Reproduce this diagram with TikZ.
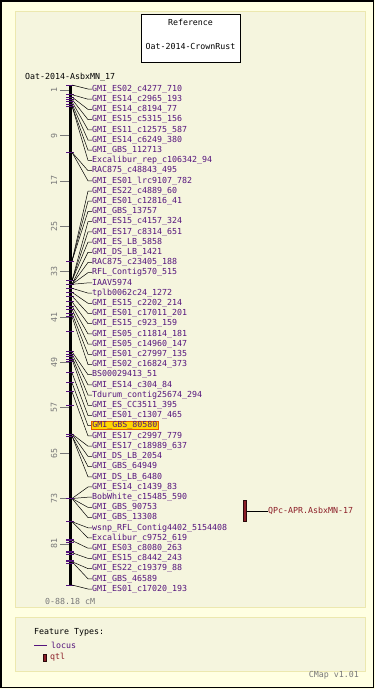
\documentclass[tikz,border=0pt]{standalone}
\usepackage{fontspec}
\setmonofont{DejaVu Sans Mono}
\definecolor{outerbg}{RGB}{255,255,226}
\definecolor{innerbg}{RGB}{245,245,222}
\definecolor{panelln}{RGB}{236,232,175}
\definecolor{mkcol}{RGB}{85,20,125}
\definecolor{qtlcol}{RGB}{140,30,40}
\definecolor{scalecol}{RGB}{120,120,120}
\definecolor{hlfill}{RGB}{255,215,0}
\definecolor{hlline}{RGB}{225,90,0}
\tikzset{
  pxfont/.style={font=\ttfamily\fontsize{8.3}{10}\selectfont},
  mlabel/.style={pxfont, text=mkcol, anchor=west, inner sep=0pt, text height=6pt, text depth=1.5pt},
  mtick/.style={draw=mkcol, line width=0.8pt},
  conn/.style={draw=black, line width=0.5pt},
  sctick/.style={draw=scalecol, line width=0.6pt},
  sclabel/.style={pxfont, text=scalecol, rotate=90, inner sep=0pt},
  panel/.style={fill=innerbg, draw=panelln, line width=1pt}
}
\begin{document}
\begin{tikzpicture}[x=1pt,y=-1pt]
\useasboundingbox (0,0) rectangle (375,689);
\fill[outerbg] (0,0) rectangle (375,689);
\draw[black, line width=1.5pt] (1,1) rectangle (373.5,687.5);
% panels
\path[panel] (15,11) rectangle (365,607);
\path[panel] (15,617) rectangle (365,671);
% reference box
\node[draw=black, fill=white, line width=0.8pt, minimum width=99pt, minimum height=48pt, anchor=north west, inner sep=0pt] (refbox) at (141,14) {};
\node[pxfont, inner sep=0pt] (reftitle) at (190.5,22) {Reference};
\node[pxfont, inner sep=0pt] (refname) at (190.5,46) {Oat-2014-CrownRust};
% map title
\node[pxfont, anchor=west, inner sep=0pt] (maptitle) at (25,77) {Oat-2014-AsbxMN\_17};
% scale ticks
\foreach \c in {1,9,17,25,33,41,49,57,65,73,81}{
  \pgfmathsetmacro{\yy}{84.6+5.67*\c}
  \draw[sctick] (60,\yy) -- (69,\yy);
  \node[sclabel] (sc\c) at (54,\yy) {\c};
}
% chromosome
\coordinate (ctop) at (70,85);
\coordinate (cbot) at (70,585);
\draw[black, line width=3pt] (ctop) -- (cbot);
\draw[black, line width=0.9pt] (66,85) -- (74,85);
\draw[black, line width=0.9pt] (66,585) -- (74,585);
% extra ticks
\foreach \ym in {331.7,361.7,405,539,542,551.5,554,560.5,563}{
  \draw[mtick] (66,\ym) -- (74,\ym);
}
% markers
\foreach \ym/\txt [count=\i] in {
85/GMI\_ES02\_c4277\_710,
94.7/GMI\_ES14\_c2965\_193,
97/GMI\_ES14\_c8194\_77,
99.3/GMI\_ES15\_c5315\_156,
101.7/GMI\_ES11\_c12575\_587,
104/GMI\_ES14\_c6249\_380,
106/GMI\_GBS\_112713,
106/Excalibur\_rep\_c106342\_94,
152.3/RAC875\_c48843\_495,
152.3/GMI\_ES01\_lrc9107\_782,
261/GMI\_ES22\_c4889\_60,
261/GMI\_ES01\_c12816\_41,
261/GMI\_GBS\_13757,
280.7/GMI\_ES15\_c4157\_324,
280.7/GMI\_ES17\_c8314\_651,
280.7/GMI\_ES\_LB\_5858,
284.3/GMI\_DS\_LB\_1421,
284.3/RAC875\_c23405\_188,
284.3/RFL\_Contig570\_515,
284.3/IAAV5974,
288.3/tplb0062c24\_1272,
292.3/GMI\_ES15\_c2202\_214,
296/GMI\_ES01\_c17011\_201,
301.7/GMI\_ES15\_c923\_159,
306/GMI\_ES05\_c11814\_181,
309.3/GMI\_ES05\_c14960\_147,
313.3/GMI\_ES01\_c27997\_135,
316.7/GMI\_ES02\_c16824\_373,
351.7/BS00029413\_51,
354/GMI\_ES14\_c304\_84,
356.7/Tdurum\_contig25674\_294,
359/GMI\_ES\_CC3511\_395,
372.7/GMI\_ES01\_c1307\_465,
382.7/{\phantom{GMI\_GBS\_80580}},
391.7/GMI\_ES17\_c2997\_779,
434/GMI\_ES17\_c18989\_637,
434/GMI\_DS\_LB\_2054,
436/GMI\_GBS\_64949,
436/GMI\_DS\_LB\_6480,
498.5/GMI\_ES14\_c1439\_83,
498.5/BobWhite\_c15485\_590,
498.5/GMI\_GBS\_90753,
498.5/GMI\_GBS\_13308,
521.7/wsnp\_RFL\_Contig4402\_5154408,
521.7/Excalibur\_c9752\_619,
540.5/GMI\_ES03\_c8080\_263,
552.7/GMI\_ES15\_c8442\_243,
561.7/GMI\_ES22\_c19379\_88,
561.7/GMI\_GBS\_46589,
585/GMI\_ES01\_c17020\_193}{
  \pgfmathsetmacro{\yl}{89+10.204*(\i-1)}
  \coordinate (m\i) at (72,\ym);
  \node[mlabel] (l\i) at (92,\yl) {\txt};
  \draw[mtick] (66,\ym) -- (74,\ym);
  \draw[conn] (m\i) -- ([xshift=-4pt]l\i.west) -- (l\i.west);
}
% highlighted marker
\node[mlabel, fill=hlfill, draw=hlline, line width=0.8pt, inner xsep=1pt, inner ysep=0.5pt] (hl) at (91,425.6) {GMI\_GBS\_80580};
% QTL
\node[draw=black!70!qtlcol, fill=qtlcol, line width=0.5pt, minimum width=3pt, minimum height=21pt, inner sep=0pt] (qtlbar) at (245,511) {};
\node[pxfont, text=qtlcol, anchor=west, inner sep=0pt, text height=6pt, text depth=1.5pt] (qtllab) at (268,511.7) {QPc-APR.AsbxMN-17};
\draw[conn, line width=0.7pt] (qtlbar.east |- qtllab.west) -- (qtllab.west);
% scale text
\node[pxfont, text=scalecol, anchor=west, inner sep=0pt] (scalelab) at (45,601) {0-88.18 cM};
% legend
\node[pxfont, anchor=west, inner sep=0pt] (legtitle) at (34,632) {Feature Types:};
\coordinate (lgl1) at (34,645);
\node[pxfont, text=mkcol, anchor=west, inner sep=0pt] (leglocus) at (51,645) {locus};
\draw[mkcol, line width=0.8pt] (lgl1) -- ([xshift=-4pt]leglocus.west);
\node[draw=black!70!qtlcol, fill=qtlcol, minimum width=3pt, minimum height=7pt, inner sep=0pt] (legqtlbar) at (44.5,657.5) {};
\node[pxfont, text=qtlcol, anchor=west, inner sep=0pt] (legqtl) at (50,657.5) {qtl};
\node[pxfont, text=scalecol, anchor=east, inner sep=0pt] (cmap) at (359,675.5) {CMap v1.01};
\end{tikzpicture}
\end{document}
